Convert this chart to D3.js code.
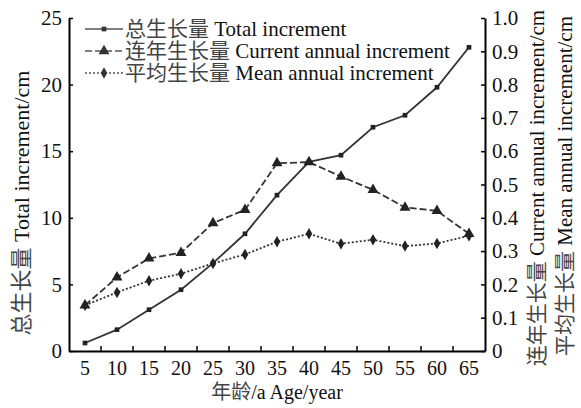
<!DOCTYPE html>
<html>
<head>
<meta charset="utf-8">
<script src="https://cdn.jsdelivr.net/npm/d3@7"></script>
<style>
  body { margin: 0; background: #fff; }
  text { font-family: "Liberation Serif", "Times New Roman", "Noto Sans CJK SC", serif; fill: #111; }
  tspan.cjk { fill: #444; }
</style>
</head>
<body>
<svg id="chart" width="581" height="408"></svg>
<script>
// Stand age (years)
const ages = [5, 10, 15, 20, 25, 30, 35, 40, 45, 50, 55, 60, 65];
// Total increment (cm), left axis
const totalIncrement = [0.6, 1.6, 3.1, 4.6, 6.6, 8.8, 11.7, 14.2, 14.7, 16.8, 17.7, 19.8, 22.8];
// Current annual increment (cm), right axis
const currentAnnual = [0.137, 0.221, 0.278, 0.295, 0.384, 0.424, 0.564, 0.567, 0.524, 0.484, 0.431, 0.421, 0.352];
// Mean annual increment (cm), right axis
const meanAnnual = [0.137, 0.176, 0.211, 0.232, 0.263, 0.290, 0.328, 0.352, 0.322, 0.334, 0.315, 0.323, 0.346];
// Axis tick values
const leftTicks = [0, 5, 10, 15, 20, 25];
const rightTicks = [0, 0.1, 0.2, 0.3, 0.4, 0.5, 0.6, 0.7, 0.8, 0.9, 1.0];

const svg = d3.select("#chart");
const m = { left: 69, right: 485, top: 18, bottom: 351 };
const ink = "#333";

const x = d3.scaleBand().domain(ages).range([m.left, m.right]).padding(0);
const yL = d3.scaleLinear().domain([0, 25]).range([m.bottom, m.top]);
const yR = d3.scaleLinear().domain([0, 1]).range([m.bottom, m.top]);
const cx = d => x(d) + x.bandwidth() / 2;

// Left axis
const gL = svg.append("g").attr("transform", `translate(${m.left},0)`)
  .call(d3.axisLeft(yL).tickValues(leftTicks).tickSizeInner(-4).tickSizeOuter(0).tickPadding(7));
// Right axis
const gR = svg.append("g").attr("transform", `translate(${m.right},0)`)
  .call(d3.axisRight(yR).tickValues(rightTicks).tickSizeInner(-4).tickSizeOuter(0).tickPadding(7)
    .tickFormat(d => d === 0 ? "0" : d3.format(".1f")(d)));
// Bottom axis: labels centred on each age, tick marks on the category boundaries
const gB = svg.append("g").attr("transform", `translate(0,${m.bottom})`)
  .call(d3.axisBottom(x).tickSize(0).tickPadding(10));
gB.selectAll(".bound").data(ages.slice(1)).enter().append("line")
  .attr("class", "bound")
  .attr("x1", d => x(d)).attr("x2", d => x(d))
  .attr("y1", 0).attr("y2", -5)
  .attr("stroke", "#000").attr("stroke-width", 1.5);

[gL, gR, gB].forEach(g => {
  g.select(".domain").attr("stroke", "#000").attr("stroke-width", 2);
  g.selectAll(".tick line").attr("stroke", "#000").attr("stroke-width", 1.5);
  g.selectAll(".tick text").attr("fill", "#111");
});
gL.selectAll(".tick text").style("font-size", "21px");
gR.selectAll(".tick text").style("font-size", "21px");
gB.selectAll(".tick text").style("font-size", "20px");

// Writes a bilingual label: Chinese part, then the English part
function bilingual(sel, zh, en) {
  sel.append("tspan").attr("class", "cjk").text(zh);
  sel.append("tspan").text(en);
  return sel;
}

// Series definitions
const series = [
  { zh: "总生长量", en: " Total increment", values: totalIncrement, y: yL, dash: null, shape: "square" },
  { zh: "连年生长量", en: " Current annual increment", values: currentAnnual, y: yR, dash: "7,3", shape: "triangle" },
  { zh: "平均生长量", en: " Mean annual increment", values: meanAnnual, y: yR, dash: "2,2", shape: "diamond" }
];

const symbolFor = {
  square: d3.symbol().type(d3.symbolSquare).size(22),
  triangle: d3.symbol().type(d3.symbolTriangle).size(52),
  diamond: d3.symbol().type(d3.symbolDiamond).size(38)
};

series.forEach(s => {
  const line = d3.line().x((d, i) => cx(ages[i])).y(d => s.y(d));
  svg.append("path").datum(s.values)
    .attr("d", line).attr("fill", "none")
    .attr("stroke", ink).attr("stroke-width", 1.8)
    .attr("stroke-dasharray", s.dash);
  svg.append("g").selectAll("path").data(s.values).enter().append("path")
    .attr("d", symbolFor[s.shape])
    .attr("transform", (d, i) => `translate(${cx(ages[i])},${s.y(d)})`)
    .attr("fill", "#222");
});

// Legend
const legend = svg.append("g").attr("transform", "translate(85,29)");
series.forEach((s, i) => {
  const row = legend.append("g").attr("transform", `translate(0,${i * 22})`);
  row.append("line").attr("x1", 0).attr("x2", 38).attr("y1", 0).attr("y2", 0)
    .attr("stroke", "#555").attr("stroke-width", 1.7).attr("stroke-dasharray", s.dash);
  row.append("path").attr("d", symbolFor[s.shape]).attr("transform", "translate(19,0)").attr("fill", "#333");
  bilingual(row.append("text").attr("x", 40).attr("y", 0).attr("dy", "0.35em")
    .style("font-size", "21px"), s.zh, s.en);
});

// Axis titles
bilingual(svg.append("text")
  .attr("transform", "translate(21,203) rotate(-90)")
  .attr("text-anchor", "middle").attr("dy", "0.35em")
  .style("font-size", "22px"), "总生长量", " Total increment/cm");
bilingual(svg.append("text")
  .attr("transform", "translate(537,188) rotate(-90)")
  .attr("text-anchor", "middle").attr("dy", "0.35em")
  .style("font-size", "21px"), "连年生长量", " Current annual increment/cm");
bilingual(svg.append("text")
  .attr("transform", "translate(565,186) rotate(-90)")
  .attr("text-anchor", "middle").attr("dy", "0.35em")
  .style("font-size", "21px"), "平均生长量", " Mean annual increment/cm");
bilingual(svg.append("text")
  .attr("x", (m.left + m.right) / 2).attr("y", 399)
  .attr("text-anchor", "middle")
  .style("font-size", "20px"), "年龄", "/a  Age/year");
</script>
</body>
</html>
